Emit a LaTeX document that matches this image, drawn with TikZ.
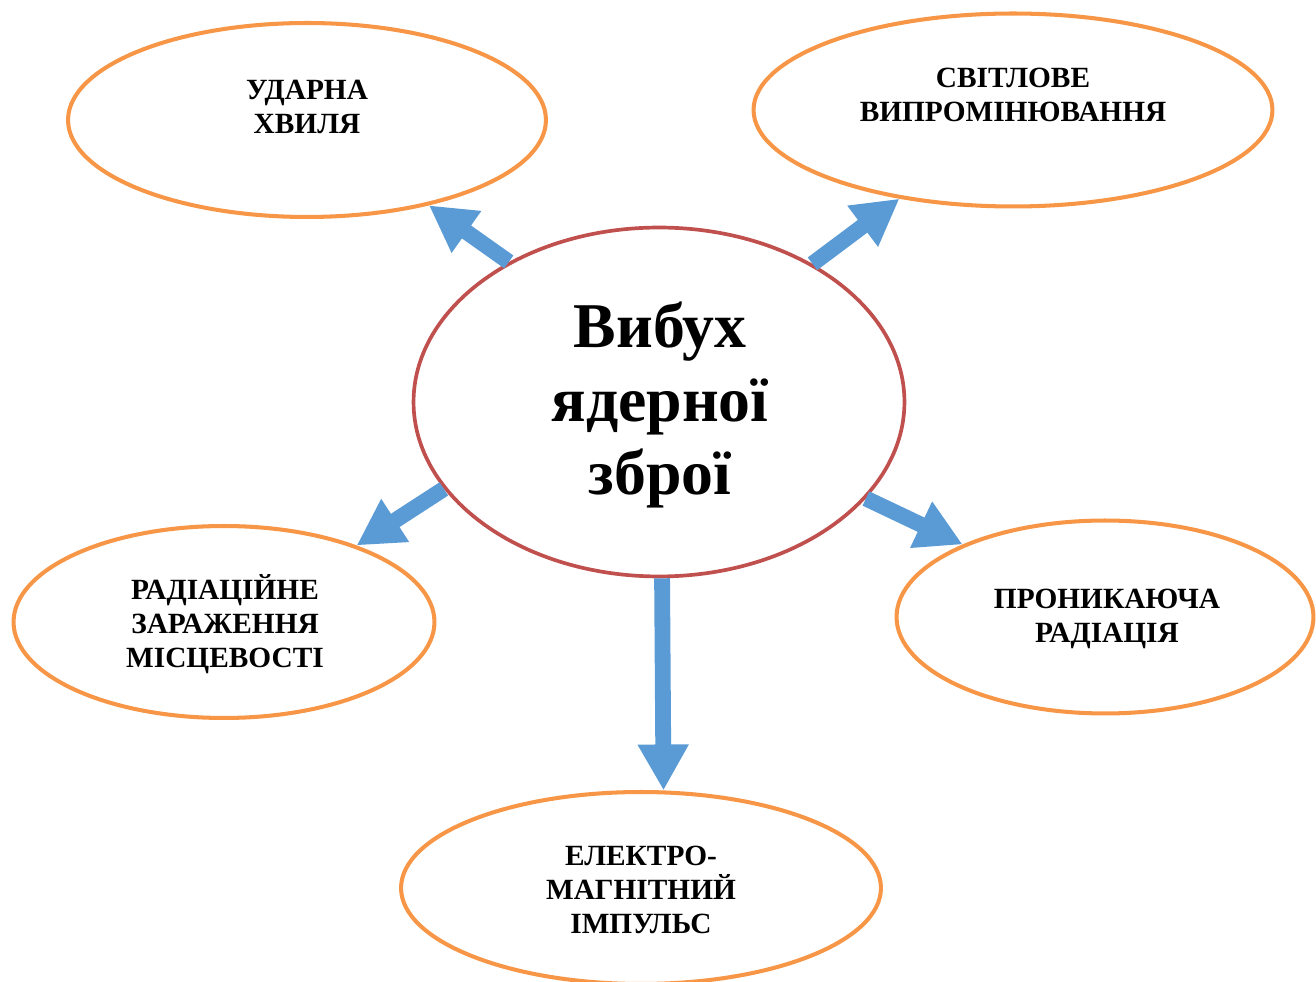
\documentclass[tikz,border=0pt]{standalone}
\usepackage{fontspec}
\setmainfont{Liberation Serif}
\usetikzlibrary{shapes.geometric, arrows.meta, positioning}
\definecolor{ringcolor}{HTML}{F79646}
\definecolor{corering}{HTML}{C0504D}
\definecolor{arrowcolor}{HTML}{5B9BD5}

\tikzset{
    factor/.style={ellipse, draw=ringcolor, line width=2.3pt, inner sep=0pt},
    factortext/.style={align=center, font=\fontsize{16.7}{19.4}\selectfont\bfseries},
    push/.style={draw=arrowcolor, line width=9pt,
        -{Triangle[width=0.96cm, length=0.92cm]}}
}

\begin{document}
\begin{tikzpicture}[x=0.02cm, y=-0.02cm]
    \useasboundingbox (0,0) rectangle (1316,982);

    % Centre
    \node[ellipse, draw=corering, line width=2.1pt, inner sep=0pt,
          minimum width=9.82cm, minimum height=6.98cm] (blast) at (659,402) {};
    \node[align=center, font=\fontsize{36.3}{41.8}\selectfont\bfseries]
        (blasttxt) at (660,405) {Вибух\\ядерної\\зброї};

    % Factors
    \node[factor, minimum width=9.56cm, minimum height=3.88cm] (shock) at (307,120) {};
    \node[factortext] (shocktxt) at (307,107) {УДАРНА\\ХВИЛЯ};

    \node[factor, minimum width=10.38cm, minimum height=3.86cm] (light) at (1013,110) {};
    \node[factortext] (lighttxt) at (1013,95) {СВІТЛОВЕ\\ВИПРОМІНЮВАННЯ};

    \node[factor, minimum width=8.42cm, minimum height=3.84cm] (contam) at (224,622) {};
    \node[factortext] (contamtxt) at (225,624) {РАДІАЦІЙНЕ\\ЗАРАЖЕННЯ\\МІСЦЕВОСТІ};

    \node[factor, minimum width=8.34cm, minimum height=3.86cm] (penetr) at (1105,617) {};
    \node[factortext] (penetrtxt) at (1107,619) {ПРОНИКАЮЧА\\РАДІАЦІЯ};

    \node[factor, minimum width=9.6cm, minimum height=3.84cm] (emp) at (641,888) {};
    \node[factortext] (emptxt) at (641,890) {ЕЛЕКТРО-\\МАГНІТНИЙ\\ІМПУЛЬС};

    % Arrows
    \draw[push] (blast.137) -- (shock.-35);
    \draw[push] (blast.42) -- (light.218);
    \draw[push] (blast.202) -- (contam.30);
    \draw[push] (blast.-25) -- (penetr.153);
    \draw[push] (blast.-89) -- (emp.77);
\end{tikzpicture}
\end{document}
